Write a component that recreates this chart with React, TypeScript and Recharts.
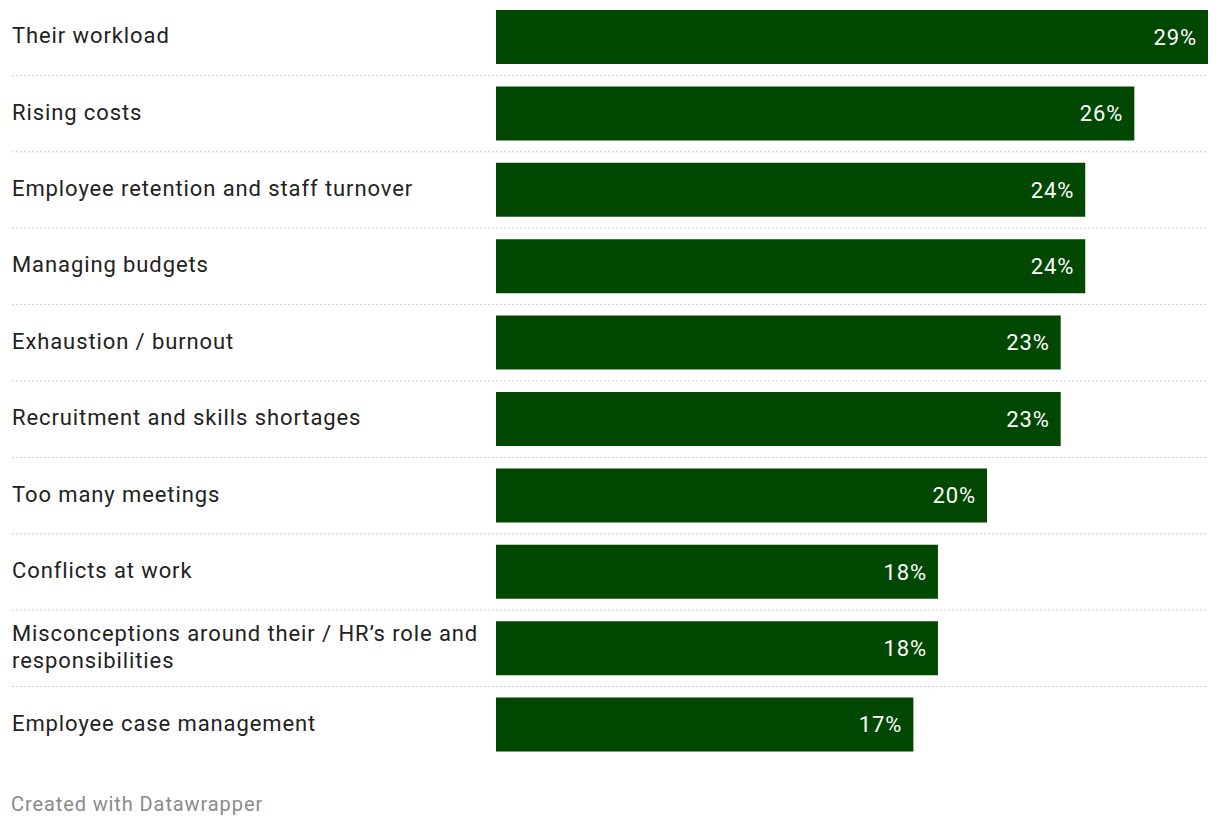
import { BarChart, Bar, XAxis, YAxis, LabelList } from "recharts"

const categories = [
  "Their workload",
  "Rising costs",
  "Employee retention and staff turnover",
  "Managing budgets",
  "Exhaustion / burnout",
  "Recruitment and skills shortages",
  "Too many meetings",
  "Conflicts at work",
  "Misconceptions around their / HR’s role and responsibilities",
  "Employee case management",
]

const shares = [29, 26, 24, 24, 23, 23, 20, 18, 18, 17]

const data = categories.map((name, i) => ({ name, value: shares[i] }))

const CHART_W = 1220
const CHART_H = 763
const ROW_H = 76.4
const FONT = "Roboto, 'Noto Sans', sans-serif"
const SPACING = 0.9

// rough word wrap so long labels break like in the original
function wrap(label: string, maxChars = 46) {
  const words = label.split(" ")
  const lines: string[] = []
  let line = ""
  words.forEach(w => {
    const next = line ? line + " " + w : w
    if (next.length > maxChars && line) {
      lines.push(line)
      line = w
    } else {
      line = next
    }
  })
  if (line) lines.push(line)
  return lines
}

const CategoryTick = ({ y, payload, index }: { y?: number; payload?: { value: string }; index?: number }) => {
  const lines = wrap(payload?.value ?? "")
  const lh = 27
  const startY = (y ?? 0) - 2 - ((lines.length - 1) * lh) / 2
  return (
    <g>
      <text
        x={12}
        y={startY}
        fill="#222"
        fontSize={22}
        fontFamily={FONT}
        letterSpacing={SPACING}
        textAnchor="start"
        dominantBaseline="central"
      >
        {lines.map((l, i) => (
          <tspan key={i} x={12} y={startY + i * lh}>{l}</tspan>
        ))}
      </text>
      {index !== undefined && index < categories.length - 1 && (
        <line
          x1={12}
          x2={1208}
          y1={(y ?? 0) + ROW_H / 2}
          y2={(y ?? 0) + ROW_H / 2}
          stroke="#cfcfcf"
          strokeWidth={1}
          strokeDasharray="2 2"
        />
      )}
    </g>
  )
}

export default function App() {
  return (
    <div style={{ position: "absolute", left: 0, top: 0, width: CHART_W, height: 828, background: "#fff" }}>
      <BarChart
        width={CHART_W}
        height={CHART_H}
        data={data}
        layout="vertical"
        margin={{ top: -1, right: 12, bottom: 0, left: 12 }}
      >
        <XAxis type="number" domain={[0, 29]} hide />
        <YAxis
          type="category"
          dataKey="name"
          width={484}
          axisLine={false}
          tickLine={false}
          interval={0}
          tick={<CategoryTick />}
        />
        <Bar dataKey="value" fill="#004700" barSize={54} isAnimationActive={false}>
          <LabelList
            dataKey="value"
            position="insideRight"
            offset={11}
            fill="#ffffff"
            fontSize={22}
            fontFamily={FONT}
            letterSpacing={SPACING}
            formatter={(v: number) => `${v}%`}
          />
        </Bar>
      </BarChart>
      <div
        style={{
          position: "absolute",
          left: 11,
          top: 791,
          fontFamily: FONT,
          fontSize: 20,
          letterSpacing: SPACING,
          color: "#8a8a8a",
          lineHeight: "26px",
        }}
      >
        Created with Datawrapper
      </div>
    </div>
  )
}
